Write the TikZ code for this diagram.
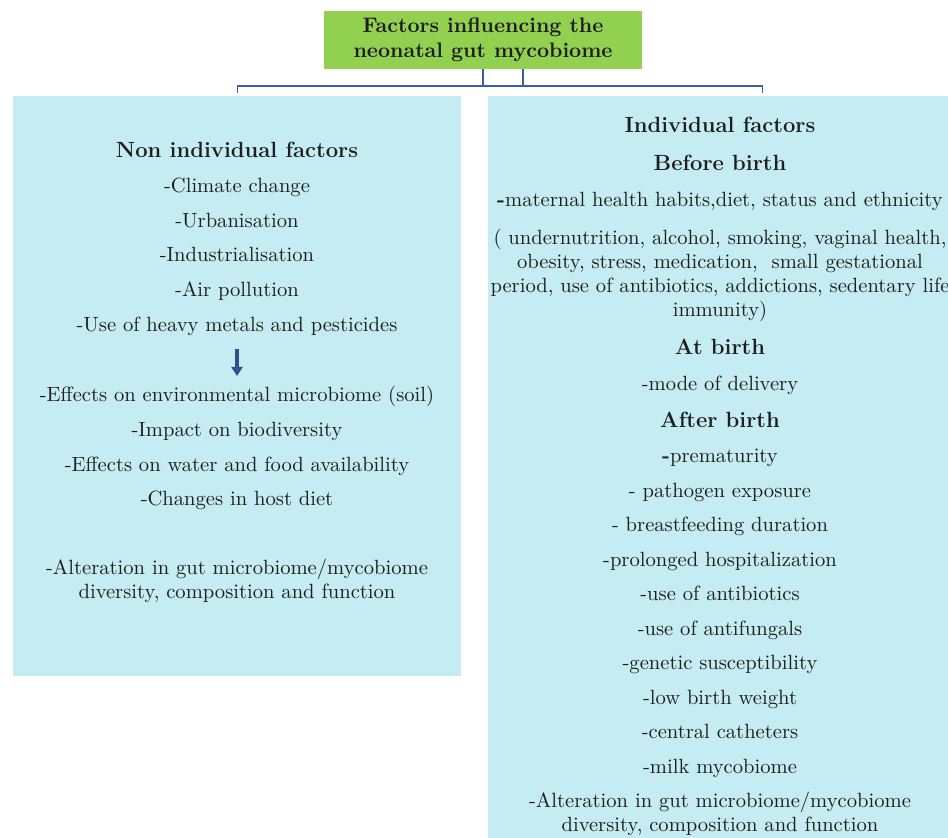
\documentclass[tikz,border=0pt]{standalone}
\usetikzlibrary{positioning, arrows.meta}
\definecolor{titlegreen}{HTML}{92D050}
\definecolor{boxblue}{HTML}{C5ECF3}
\definecolor{linkblue}{HTML}{3A5DA8}
\definecolor{txtgray}{HTML}{1E1E1E}
\tikzstyle{titlebox} = [rectangle, minimum width=159pt, minimum height=28pt, fill=titlegreen, align=center, text=txtgray, font=\bfseries\fontsize{10.5}{12.5}\selectfont]
\tikzstyle{panel} = [rectangle, fill=boxblue, inner sep=0pt, anchor=north west]
\tikzstyle{list} = [align=center, anchor=north, inner sep=0pt, text=txtgray, font=\fontsize{10.3}{12}\selectfont]
\tikzstyle{link} = [linkblue, line width=0.8pt]
\tikzstyle{bigarrow} = [linkblue!85!black, line width=2pt, -{Triangle[width=5.5pt,length=4.5pt]}]
\newcommand{\hd}[1]{{\bfseries\fontsize{11}{12}\selectfont #1}}

\begin{document}
\begin{tikzpicture}[x=0.5pt, y=-0.5pt]
    \useasboundingbox (0,0) rectangle (948,838);
    % boxes
    \node (title) [titlebox] at (483,40) {Factors influencing the\\neonatal gut mycobiome};
    \node (nonind) [panel, minimum width=224pt, minimum height=290pt] at (13,96) {};
    \node (indiv) [panel, minimum width=274pt, minimum height=380pt] at (488,96) {};
    % tree lines
    \coordinate (bus) at (0,86);
    \coordinate (stem) at ([xshift=20pt]title.south);
    \draw[link] (title.south) -- (title.south |- bus);
    \draw[link] (stem) -- (stem |- bus);
    \draw[link] ([yshift=1.5pt]nonind.north) -- (nonind.north |- bus) -- (indiv.north |- bus) -- ([yshift=1.5pt]indiv.north);
    % non individual factors
    \node (nonlist) [list] at (237,142) {\hd{Non individual factors}\\[5.5pt]
    -Climate change\\[5.3pt]
    -Urbanisation\\[5.3pt]
    -Industrialisation\\[5.3pt]
    -Air pollution\\[5.3pt]
    -Use of heavy metals and pesticides};
    \node (efflist) [list] at (237,386) {-Effects on environmental microbiome (soil)\\[5.3pt]
    -Impact on biodiversity\\[5.3pt]
    -Effects on water and food availability\\[5.3pt]
    -Changes in host diet\\[22.5pt]
    -Alteration in gut microbiome/mycobiome\\
    diversity, composition and function};
    \draw[bigarrow, shorten <=6.5pt, shorten >=5pt] (nonlist.south) -- (efflist.north);
    % individual factors
    \node (indlist) [list] at (720,117) {\hd{Individual factors}\\[7pt]
    \hd{Before birth}\\[6pt]
    \textbf{-}maternal health habits,diet, status and ethnicity\\[7pt]
    ( undernutrition,\ alcohol, smoking, vaginal health,\\
    obesity, stress, medication,\ \ small gestational\\
    period, use of antibiotics, addictions, sedentary life\\
    immunity)\\[7pt]
    \hd{At birth}\\[6pt]
    -mode of delivery\\[6.5pt]
    \hd{After birth}\\[5.5pt]
    \textbf{-}prematurity\\[5.25pt]
    - pathogen exposure\\[5.25pt]
    - breastfeeding duration\\[5.25pt]
    -prolonged hospitalization\\[5.25pt]
    -use of antibiotics\\[5.25pt]
    -use of antifungals\\[5.25pt]
    -genetic susceptibility\\[5.25pt]
    -low birth weight\\[5.25pt]
    -central catheters\\[5.25pt]
    -milk mycobiome\\[5pt]
    -Alteration in gut microbiome/mycobiome\\
    diversity, composition and function};
\end{tikzpicture}
\end{document}
